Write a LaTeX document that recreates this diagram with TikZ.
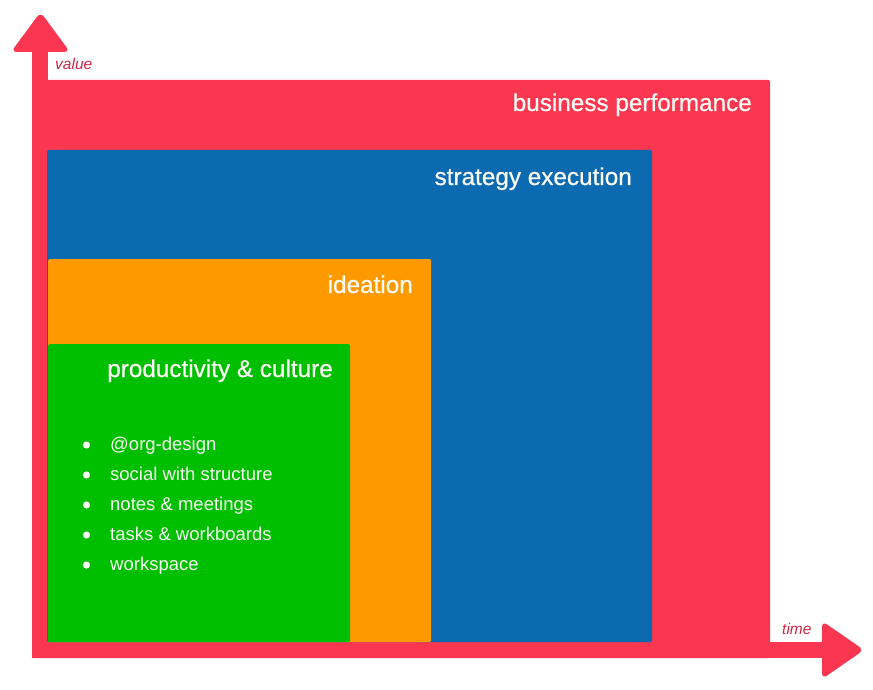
\documentclass[tikz,border=0pt]{standalone}
\usepackage{fontspec}
\setmainfont{Liberation Sans}
\newfontfamily\headfont{Liberation Sans}[FakeBold=0.7]
\usepackage{xcolor}
\usetikzlibrary{positioning,calc}
\definecolor{perfred}{RGB}{250,54,80}
\definecolor{execblue}{RGB}{12,106,176}
\definecolor{ideaorange}{RGB}{255,153,0}
\definecolor{cultgreen}{RGB}{0,191,0}
\definecolor{axistext}{RGB}{205,38,70}
\definecolor{softwhite}{RGB}{250,250,244}

\begin{document}
\begin{tikzpicture}[x=1pt,y=-1pt,
box/.style={rounded corners=1.5pt},
head/.style={anchor=base east,inner sep=0pt,text=softwhite,font=\headfont\fontsize{24.3}{28}\selectfont},
item/.style={anchor=base west,inner sep=0pt,text=softwhite,font=\fontsize{18.5}{22}\selectfont},
lbl/.style={anchor=base west,inner sep=0pt,text=axistext,font=\fontsize{15.5}{18}\selectfont\itshape}]
\useasboundingbox (0,0) rectangle (873,690);
% axes
\fill[perfred] (32,50) rectangle (48,658);
\fill[perfred] (32,642) rectangle (822,658);
\fill[perfred,rounded corners=6pt] (11,52) -- (40.5,12) -- (70,52) -- cycle;
\fill[perfred,rounded corners=6pt] (822,621) -- (864,650) -- (822,679) -- cycle;
% nested areas
\fill[box,perfred] (32,80) rectangle (770,658);
\fill[box,execblue] (47,150) rectangle (652,642);
\fill[box,ideaorange] (48,259) rectangle (431,642);
\fill[box,cultgreen] (48,344) rectangle (350,642);
\node[lbl] (val) at (55,70) {value};
\node[lbl] (tim) at (782,634) {time};
\node[head] (bp) at (752,111) {business performance};
\node[head] (se) at (632,185) {strategy execution};
\node[head] (id) at (413,293) {ideation};
\node[head] (pc) at (333,377) {productivity \& culture};
\foreach \t [count=\i] in {@org-design,social with structure,notes \& meetings,tasks \& workboards,workspace}
  {\fill[softwhite] (86.5,{445+30*(\i-1)}) circle (3.6);
   \node[item] (i\i) at (110,{450+30*(\i-1)}) {\t};}
\end{tikzpicture}
\end{document}
